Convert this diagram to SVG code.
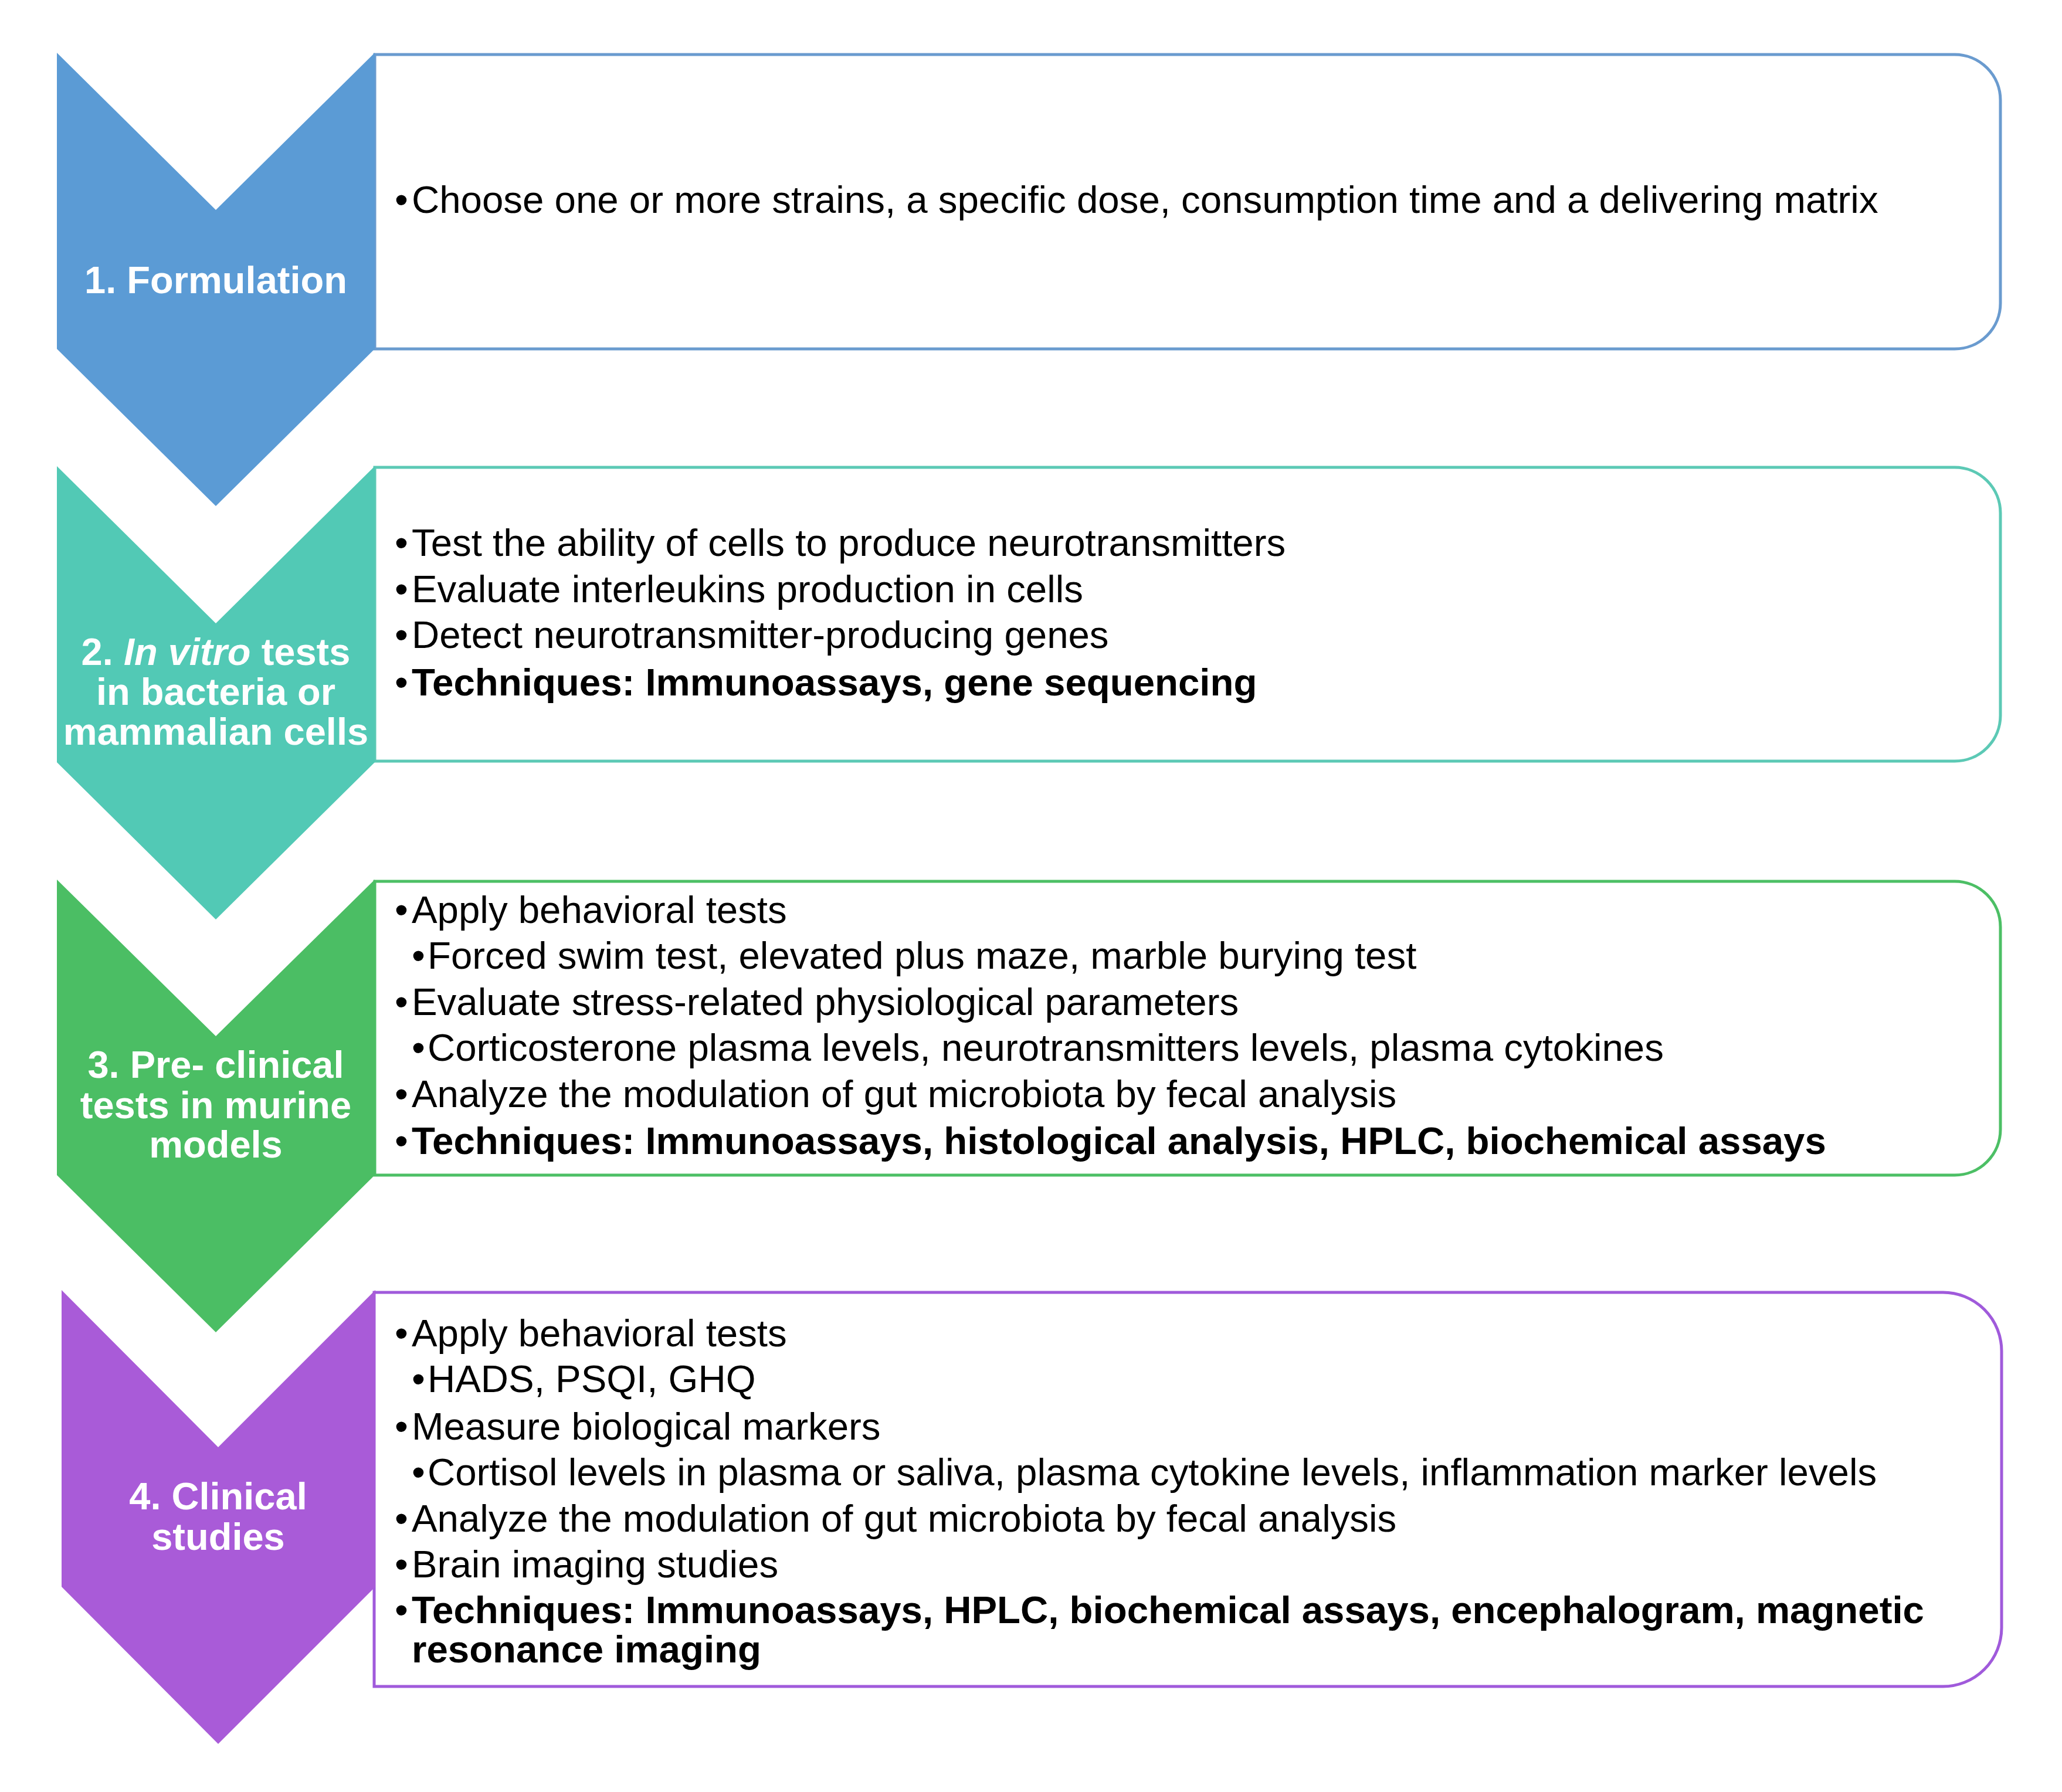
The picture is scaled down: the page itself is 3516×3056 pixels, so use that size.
<svg xmlns="http://www.w3.org/2000/svg" width="3516" height="3056" viewBox="0 0 3516 3056">
<style>
.box{fill:#ffffff;stroke-width:5}
.lbl{font-family:"Liberation Sans",Arial,sans-serif;font-size:65px;font-weight:bold;fill:#ffffff;text-anchor:middle}
.txt{font-family:"Liberation Sans",Arial,sans-serif;font-size:65.4px;fill:#000000}
.b{font-weight:bold}
</style>
<rect width="3516" height="3056" fill="#ffffff"/>
<g id="connectors"></g>
<g id="step1">
<path class="box" stroke="#6A9BCF" d="M639,93 H3333 A78,78 0 0 1 3411,171 V517 A78,78 0 0 1 3333,595 H639 Z"/>
<polygon fill="#5B9BD5" points="97,90 368,358 639,90 639,595 368,863 97,595"/>
<text class="lbl" x="368" y="500">1. Formulation</text>
<text class="txt"><tspan x="673" y="363">•</tspan><tspan x="702" y="363">Choose one or more strains, a specific dose, consumption time and a delivering matrix</tspan></text>
</g>
<g id="step2">
<path class="box" stroke="#5CC9B5" d="M639,797 H3333 A78,78 0 0 1 3411,875 V1220 A78,78 0 0 1 3333,1298 H639 Z"/>
<polygon fill="#52C9B5" points="97,795 368,1063 639,795 639,1300 368,1568 97,1300"/>
<text class="lbl"><tspan x="368" y="1134">2. <tspan font-style="italic">In vitro</tspan> tests</tspan><tspan x="368" y="1202">in bacteria or</tspan><tspan x="368" y="1270">mammalian cells</tspan></text>
<text class="txt"><tspan x="673" y="948">•</tspan><tspan x="702" y="948">Test the ability of cells to produce neurotransmitters</tspan><tspan x="673" y="1027">•</tspan><tspan x="702" y="1027">Evaluate interleukins production in cells</tspan><tspan x="673" y="1105">•</tspan><tspan x="702" y="1105">Detect neurotransmitter-producing genes</tspan><tspan x="673" y="1186">•</tspan><tspan class="b" x="702" y="1186">Techniques: Immunoassays, gene sequencing</tspan></text>
</g>
<g id="step3">
<path class="box" stroke="#4CBF65" d="M639,1503 H3333 A78,78 0 0 1 3411,1581 V1926 A78,78 0 0 1 3333,2004 H639 Z"/>
<polygon fill="#4BBE64" points="97,1500 368,1767 639,1500 639,2004 368,2272 97,2004"/>
<text class="lbl"><tspan x="368" y="1838">3. Pre- clinical</tspan><tspan x="368" y="1907">tests in murine</tspan><tspan x="368" y="1974">models</tspan></text>
<text class="txt"><tspan x="673" y="1574">•</tspan><tspan x="702" y="1574">Apply behavioral tests</tspan><tspan x="702" y="1652">•</tspan><tspan x="729" y="1652">Forced swim test, elevated plus maze, marble burying test</tspan><tspan x="673" y="1731">•</tspan><tspan x="702" y="1731">Evaluate stress-related physiological parameters</tspan><tspan x="702" y="1809">•</tspan><tspan x="729" y="1809">Corticosterone plasma levels, neurotransmitters levels, plasma cytokines</tspan><tspan x="673" y="1888">•</tspan><tspan x="702" y="1888">Analyze the modulation of gut microbiota by fecal analysis</tspan><tspan x="673" y="1968">•</tspan><tspan class="b" x="702" y="1968">Techniques: Immunoassays, histological analysis, HPLC, biochemical assays</tspan></text>
</g>
<g id="step4">
<path class="box" stroke="#A05ADB" d="M638,2204 H3313 A100,100 0 0 1 3413,2304 V2776 A100,100 0 0 1 3313,2876 H638 Z"/>
<polygon fill="#A95BD8" points="105,2200 372,2468 640,2200 640,2706 372,2974 105,2706"/>
<text class="lbl"><tspan x="372" y="2574">4. Clinical</tspan><tspan x="372" y="2643">studies</tspan></text>
<text class="txt"><tspan x="673" y="2296">•</tspan><tspan x="702" y="2296">Apply behavioral tests</tspan><tspan x="702" y="2374">•</tspan><tspan x="729" y="2374">HADS, PSQI, GHQ</tspan><tspan x="673" y="2455">•</tspan><tspan x="702" y="2455">Measure biological markers</tspan><tspan x="702" y="2533">•</tspan><tspan x="729" y="2533">Cortisol levels in plasma or saliva, plasma cytokine levels, inflammation marker levels</tspan><tspan x="673" y="2612">•</tspan><tspan x="702" y="2612">Analyze the modulation of gut microbiota by fecal analysis</tspan><tspan x="673" y="2690">•</tspan><tspan x="702" y="2690">Brain imaging studies</tspan><tspan x="673" y="2768">•</tspan><tspan class="b" x="702" y="2768">Techniques: Immunoassays, HPLC, biochemical assays, encephalogram, magnetic</tspan><tspan class="b" x="702" y="2835">resonance imaging</tspan></text>
</g>
</svg>
